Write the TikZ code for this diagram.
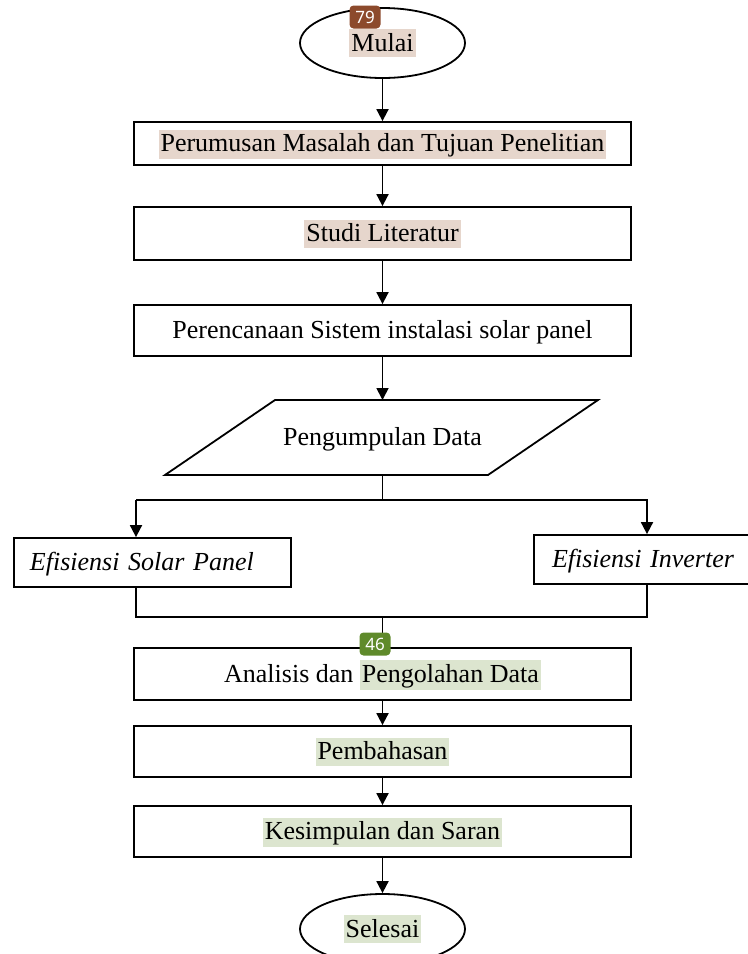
\documentclass[tikz,border=0pt]{standalone}
\usepackage{fontspec}
\setmainfont{Liberation Serif}
\newfontfamily\badgefont{Noto Sans}
\usepackage{xcolor}
\usetikzlibrary{arrows.meta,positioning,shapes.geometric}
\definecolor{hlbraun}{HTML}{E6D6CC}
\definecolor{hlgruen}{HTML}{DCE5CF}
\definecolor{badgebraun}{HTML}{8C4A2C}
\definecolor{badgegruen}{HTML}{5F8A2B}
\newcommand{\hlbraun}[1]{{\setlength{\fboxsep}{1pt}\colorbox{hlbraun}{\vrule height 10pt depth 2pt width 0pt#1}}}
\newcommand{\hlgruen}[1]{{\setlength{\fboxsep}{1pt}\colorbox{hlgruen}{\vrule height 10pt depth 2pt width 0pt#1}}}
\tikzstyle{teks} = [text height=11pt, text depth=3pt]
\tikzstyle{prozess} = [draw, rectangle, teks, minimum width=248.5pt, inner sep=0pt]
\tikzstyle{terminal} = [draw, ellipse, teks, minimum width=82.5pt, minimum height=35pt, inner sep=0pt]
\tikzstyle{zweig} = [draw, rectangle, teks, align=left, inner ysep=0pt, font=\fontsize{13}{15}\selectfont\itshape]
\tikzstyle{badge} = [rounded corners=2pt, text=white, inner sep=0pt,
minimum width=15.5pt, minimum height=11.5pt, font=\badgefont\fontsize{8.5}{9}\selectfont]
\begin{document}
\begin{tikzpicture}[x=0.5pt, y=-0.5pt, line width=0.9pt, font=\fontsize{13}{15}\selectfont,
	>={Triangle[length=6pt,width=6pt]}]
		\useasboundingbox (0,0) rectangle (748,954);
		\node[terminal] (mulai) at (382.5,43) {\hlbraun{Mulai}};		% Start
		\node[prozess, minimum height=21.5pt, below of=mulai, node distance=50.25pt] (rumusan) {\hlbraun{Perumusan Masalah dan Tujuan Penelitian}};
		\node[prozess, minimum height=26.5pt, below of=rumusan, node distance=45pt] (studi) {\hlbraun{Studi Literatur}};
		\node[prozess, minimum height=25.5pt, below of=studi, node distance=48.5pt] (rencana) {Perencanaan Sistem instalasi solar panel};
		\node[teks, below of=rencana, node distance=53.5pt] (data) {Pengumpulan Data};	% Eingabe
		\draw[shift={(data.center)}] (-107.5,-37.5) -- (215.5,-37.5) -- (105.5,37.5) -- (-217.5,37.5) -- cycle;	% Parallelogramm
		\coordinate (dataatas) at (382.5,400);
		\coordinate (databawah) at (382.5,475);
		\coordinate (teilung) at (382.5,500);	% Verzweigung
		\coordinate (armkiri) at (136,500);
		\coordinate (armkanan) at (647,500);
		\node[zweig, text width=122.5pt, inner xsep=8pt, minimum height=24.5pt] (solar) at (152.5,562.5) {Efisiensi Solar Panel};
		\node[zweig, text width=91pt, inner xsep=9pt, minimum height=24.5pt] (inverter) at (643,559.5) {Efisiensi Inverter};
		\coordinate (gabung) at (382.5,617);	% Zusammenfuehrung
		\node[prozess, minimum height=26pt, below of=data, node distance=118.25pt] (analisis) {Analisis dan \hlgruen{Pengolahan Data}};
		\node[prozess, minimum height=25.5pt, below of=analisis, node distance=38.75pt] (bahas) {\hlgruen{Pembahasan}};
		\node[prozess, minimum height=25.5pt, below of=bahas, node distance=40pt] (simpul) {\hlgruen{Kesimpulan dan Saran}};
		\node[terminal, below of=simpul, node distance=48.75pt] (selesai) {\hlgruen{Selesai}};	% Ende

		% Pfeile
		\draw[->] (mulai) -- (rumusan);
		\draw[->] (rumusan) -- (studi);
		\draw[->] (studi) -- (rencana);
		\draw[->] (rencana) -- (dataatas);
		\draw (databawah) -- (teilung);
		\draw[->] (armkiri) -- (armkanan |- teilung) -- (armkanan) -- (inverter.north -| armkanan);
		\draw[->] (armkiri) -- (solar.north -| armkiri);
		\draw (solar.south -| armkiri) |- (gabung) -| (inverter.south -| armkanan);
		\draw[->] (gabung) -- (analisis);
		\draw[->] (analisis) -- (bahas);
		\draw[->] (bahas) -- (simpul);
		\draw[->] (simpul) -- (selesai);

		% Markierungen
		\node[badge, fill=badgebraun] (m79) at (365,17) {79};
		\node[badge, fill=badgegruen] (m46) at (375,644) {46};
\end{tikzpicture}
\end{document}
